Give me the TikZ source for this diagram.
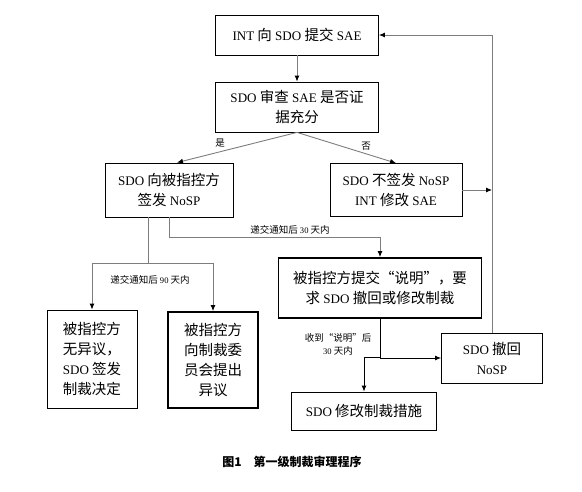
\documentclass[tikz,border=0pt]{standalone}
\usepackage{fontspec}
\setmainfont{Noto Sans CJK SC}
\newfontfamily\enfont{Liberation Serif}[Scale=0.9]
\newcommand{\en}[1]{{\enfont #1}}
\usepackage{xcolor}
\usetikzlibrary{arrows.meta}
\definecolor{linegray}{RGB}{125,125,125}

\tikzset{
box/.style={draw,line width=0.8pt,align=center,inner sep=2pt,font=\fontsize{14.5}{20}\selectfont},
boldbox/.style={box,line width=1.8pt},
conn/.style={draw=linegray,line width=0.9pt},
arr/.style={-{Latex[length=6pt,width=5pt,black]}},
lab/.style={font=\fontsize{9.5}{13}\selectfont,inner sep=1pt}
}

\begin{document}
\begin{tikzpicture}[x=1pt,y=-1pt]
\useasboundingbox (0,0) rectangle (582,492);

% boxes
\node[box,minimum width=163,minimum height=40] (int) at (297,35) {\en{INT} 向 \en{SDO} 提交 \en{SAE}};
\node[box,minimum width=163,minimum height=50] (check) at (297,107) {\en{SDO} 审查 \en{SAE} 是否证\\据充分};
\node[box,minimum width=128,minimum height=54] (nosp) at (169,190) {\en{SDO} 向被指控方\\签发 \en{NoSP}};
\node[box,minimum width=132,minimum height=53] (nonosp) at (396,190) {\en{SDO} 不签发 \en{NoSP}\\\en{INT} 修改 \en{SAE}};
\node[boldbox,minimum width=203,minimum height=60] (expl) at (380,288) {被指控方提交“说明”，要\\求 \en{SDO} 撤回或修改制裁};
\node[box,minimum width=90,minimum height=98] (noobj) at (92,359) {被指控方\\无异议，\\\en{SDO} 签发\\制裁决定};
\node[boldbox,minimum width=90,minimum height=96] (obj) at (213,360) {被指控方\\向制裁委\\员会提出\\异议};
\node[box,minimum width=101,minimum height=50] (withdraw) at (492,358) {\en{SDO} 撤回\\\en{NoSP}};
\node[box,minimum width=145,minimum height=38] (modify) at (364,411) {\en{SDO} 修改制裁措施};

%%%%%%%%%%   upper part
\draw[conn,arr] (int) -- (check);
\draw[conn,arr] (check.south) -- ([xshift=8]nosp.north);
\draw[conn,arr] (check.south) -- (nonosp.north);
\node[lab] (yes) at (220,143) {是};
\node[lab] (no) at (366,146) {否};
\draw[conn,arr] (nonosp.east) -- (nonosp.east -| withdraw.north);
\draw[conn,arr] (withdraw.north) |- (int.east);

%%%%%%%%%%   after NoSP
\coordinate (b90) at (148,263);
\draw[conn] (nosp.south -| b90) -- (b90);
\draw[conn,arr] (b90) -| (noobj.north);
\draw[conn,arr] (b90) -| (obj.north);
\node[lab] (l90) at (150,280) {递交通知后 \en{90} 天内};

\draw[conn,arr] (nosp.south) -- ++(0,20) -| (expl.north);
\node[lab] (l30) at (290,230) {递交通知后 \en{30} 天内};

%%%%%%%%%%   explanation
\coordinate (b2) at (380,357);
\draw[line width=0.9pt,arr] (expl.south) |- (withdraw.west);
\draw[line width=0.9pt,arr] (b2) -| (modify.north);
\node[lab,align=center] (lexpl) at (338,344) {收到“说明”后\\\en{30} 天内};

\node[font=\fontsize{12}{14}\selectfont\bfseries] (cap) at (292,462) {图1\quad 第一级制裁审理程序};
\end{tikzpicture}
\end{document}
